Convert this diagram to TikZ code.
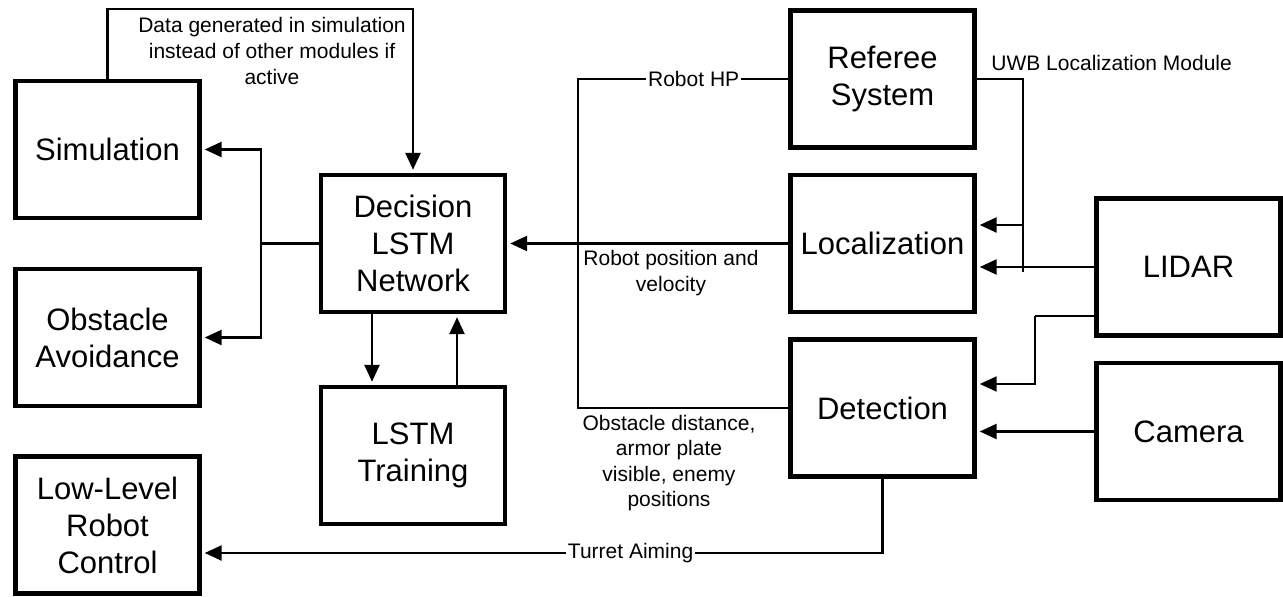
\documentclass[tikz,border=0pt]{standalone}
\usepackage{fontspec}
\setmainfont{Liberation Sans}
\usetikzlibrary{arrows.meta}
\tikzset{
  block/.style={draw, line width=2.2pt, minimum width=92pt, minimum height=68.5pt,
    inner sep=0pt, align=center, font=\fontsize{15.5}{18.5}\selectfont},
  wire/.style={line width=1.25pt},
  thinwire/.style={line width=0.95pt},
  arr/.style={wire, shorten >=1.5pt, -{Triangle[width=7.5pt,length=8.5pt]}},
  lbl/.style={font=\fontsize{10.5}{12.8}\selectfont, align=center, inner sep=1pt},
}
\begin{document}
\begin{tikzpicture}[x = 0.5pt, y = -0.5pt]
    \useasboundingbox (0,0) rectangle (1283,597);
    \node[block] (sim) at (107.5,149.5) {Simulation};
    \node[block] (obst) at (107.5,337.5) {Obstacle\\Avoidance};
    \node[block] (lowlevel) at (107.5,525) {Low-Level\\Robot\\Control};
    \node[block] (decision) at (413,243.5) {Decision\\LSTM\\Network};
    \node[block] (training) at (413,455.5) {LSTM\\Training};
    \node[block] (referee) at (882.5,79) {Referee\\System};
    \node[block] (local) at (882.5,243.5) {Localization};
    \node[block] (detect) at (882.5,408) {Detection};
    \node[block] (lidar) at (1188.5,267) {LIDAR};
    \node[block] (camera) at (1188.5,431.5) {Camera};

    \coordinate (simtop) at (107.5,9);
    \coordinate (split) at (261,243.5);
    \coordinate (hpcorner) at (578,79);
    \coordinate (aimcorner) at (882.5,553);
    \coordinate (uwbcorner) at (1023,79);
    \coordinate (uwbtap) at (1023,225);
    \coordinate (uwbend) at (1023,272);
    \coordinate (lidarcorner) at (1035,316);

    \draw[arr] (sim.north) -- (simtop) -| (decision.north);
    \node[lbl] (simnote) at (272,51) {Data generated in simulation\\instead of other modules if\\active};
    \draw[wire] (decision.west) -- (split);
    \draw[arr] (split) |- (sim.east);
    \draw[arr] (split) |- (obst.east);
    \draw[arr] ([xshift=-20.5pt]decision.south) -- ([xshift=-20.5pt]training.north);
    \draw[arr] ([xshift=22pt]training.north) -- ([xshift=22pt]decision.south);

    \draw[arr] (local.west) -- (decision.east);
    \node[lbl] (posnote) at (671,273) {Robot position and\\velocity};
    \draw[thinwire] (referee.west) -- node[lbl, fill=white, pos=0.45]{Robot HP} (hpcorner) |- (detect.west);
    \node[lbl] (detnote) at (669,463) {Obstacle distance,\\armor plate\\visible, enemy\\positions};
    \draw[arr] (detect.south) -- (aimcorner) -- node[lbl, fill=white, pos=0.37]{Turret Aiming} (lowlevel.east |- aimcorner);

    \draw[wire] (referee.east) -- (uwbcorner) -- (uwbend);
    \node[lbl, anchor=west] (uwbnote) at (989,63) {UWB Localization Module};
    \draw[arr] (uwbtap) -- (local.east |- uwbtap);
    \draw[arr] (lidar.west) -- (local.east |- lidar.west);
    \draw[thinwire] (lidar.west |- lidarcorner) -- (lidarcorner);
    \draw[arr, thinwire] (lidarcorner) |- ([yshift=12pt]detect.east);
    \draw[arr] (camera.west) -- (detect.east |- camera.west);
\end{tikzpicture}
\end{document}
